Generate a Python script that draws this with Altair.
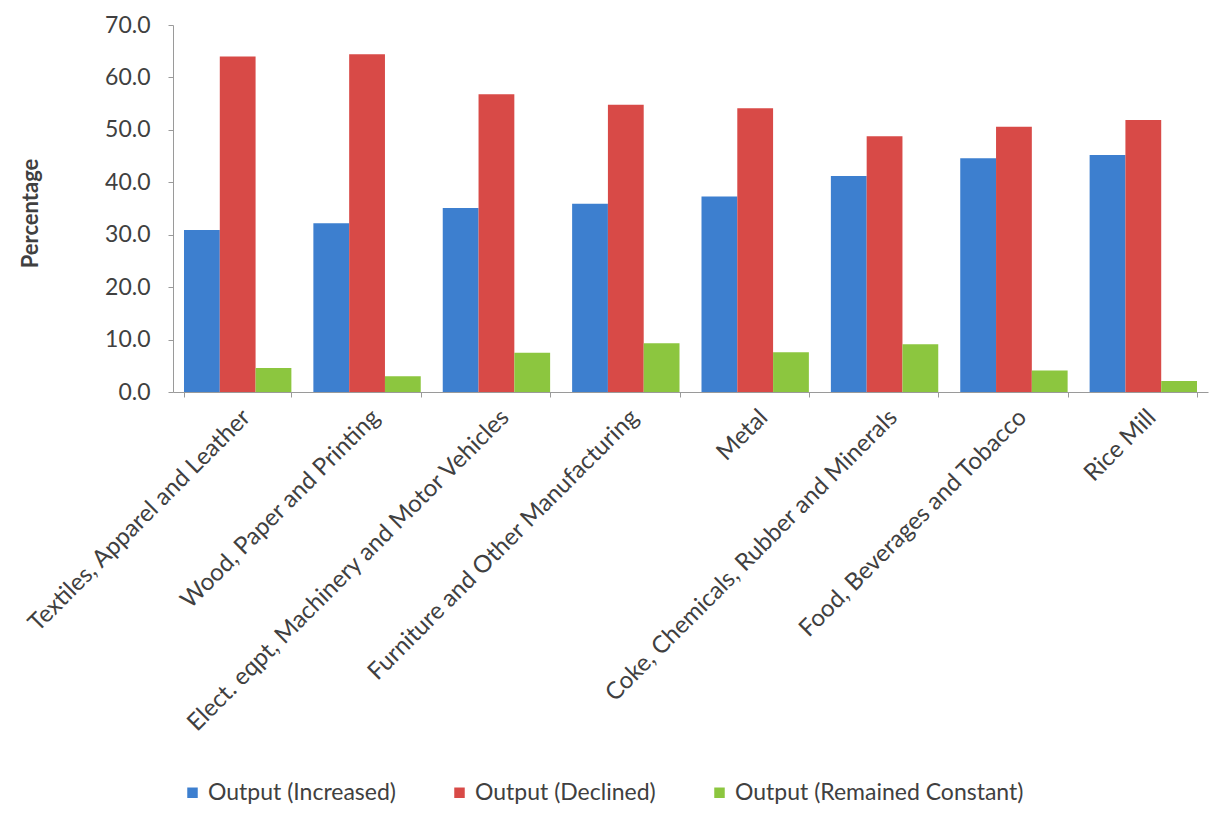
import altair as alt
import pandas as pd

categories = [
    "Textiles, Apparel and Leather",
    "Wood, Paper and Printing",
    "Elect. eqpt, Machinery and Motor Vehicles",
    "Furniture and Other Manufacturing",
    "Metal",
    "Coke, Chemicals, Rubber and Minerals",
    "Food, Beverages and Tobacco",
    "Rice Mill",
]
series = ["Output (Increased)", "Output (Declined)", "Output (Remained Constant)"]
increased = [30.9, 32.2, 35.1, 35.9, 37.3, 41.2, 44.6, 45.2]
declined = [64.0, 64.4, 56.8, 54.8, 54.1, 48.8, 50.6, 51.9]
constant = [4.6, 3.0, 7.5, 9.3, 7.6, 9.1, 4.1, 2.1]
colors = ["#3d7fcf", "#d84a47", "#8cc63f"]
y_ticks = [0, 10, 20, 30, 40, 50, 60, 70]

rows = []
for vals, s in zip([increased, declined, constant], series):
    for c, v in zip(categories, vals):
        rows.append({"Category": c, "Series": s, "Value": v})
df = pd.DataFrame(rows)

FONT = "Lato"
TXT = "#404040"

chart = (
    alt.Chart(df)
    .mark_bar()
    .encode(
        x=alt.X(
            "Category:N",
            sort=categories,
            scale=alt.Scale(paddingInner=0.17, paddingOuter=0.085),
            axis=alt.Axis(
                title=None,
                labelAngle=-45,
                labelFontSize=24,
                labelColor=TXT,
                labelFont=FONT,
                labelPadding=8,
                labelLimit=600,
                tickBand="extent",
                tickSize=5,
                tickColor="#9a9a9a",
                domainColor="#9a9a9a",
            ),
        ),
        xOffset=alt.XOffset("Series:N", sort=series),
        y=alt.Y(
            "Value:Q",
            scale=alt.Scale(domain=[0, 70], nice=False),
            axis=alt.Axis(
                title="Percentage",
                values=y_ticks,
                format=".1f",
                grid=False,
                labelFontSize=23,
                labelColor=TXT,
                labelFont=FONT,
                labelPadding=18,
                tickSize=5,
                tickColor="#9a9a9a",
                domainColor="#9a9a9a",
                titleFont=FONT,
                titleFontSize=22,
                titleFontWeight="bold",
                titleColor=TXT,
                titleX=-131,
                titleY=188,
                titleAngle=-90,
                titleAlign="center",
            ),
        ),
        color=alt.Color(
            "Series:N",
            sort=series,
            scale=alt.Scale(domain=series, range=colors),
            legend=alt.Legend(
                title=None,
                orient="none",
                direction="horizontal",
                legendX=8,
                legendY=756,
                symbolType="square",
                symbolSize=110,
                labelFontSize=23,
                labelFont=FONT,
                labelColor=TXT,
                columnPadding=52,
                labelLimit=600,
            ),
        ),
    )
    .properties(
        width=1035,
        height=367,
        padding={"left": 165, "top": 17, "right": 5, "bottom": 416},
        autosize=alt.AutoSizeParams(type="none"),
    )
    .configure(background="white")
    .configure_view(stroke=None)
)

chart.save("out.html", embed_options={"renderer": "svg", "actions": False})
